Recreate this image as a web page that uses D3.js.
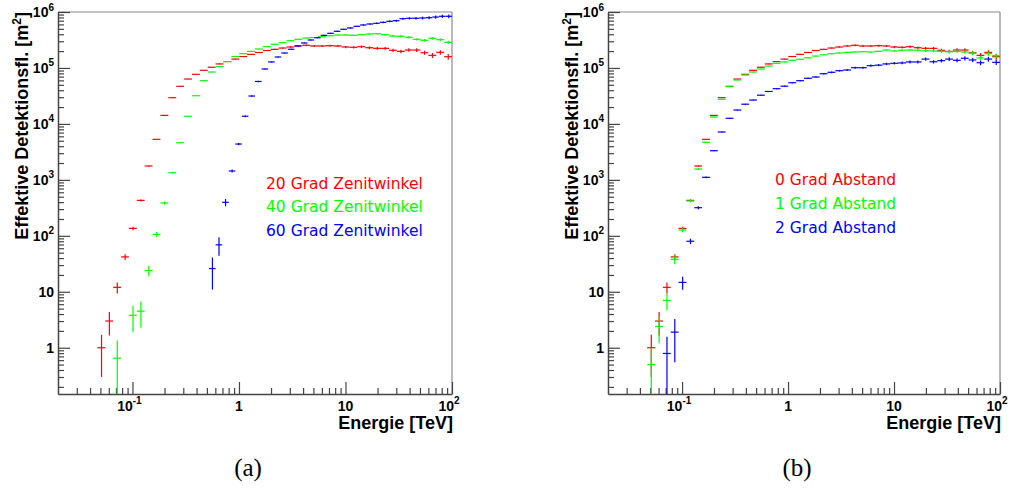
<!DOCTYPE html>
<html>
<head>
<meta charset="utf-8">
<script src="https://cdn.jsdelivr.net/npm/d3@7"></script>
<style>
  html, body { margin: 0; padding: 0; background: #fff; }
  svg { display: block; }
</style>
</head>
<body>
<svg id="chart" width="1013" height="489"></svg>
<script>
// ---- Axis ranges and binning (log-spaced energy bins) ----
const energyRange = [0.02, 100];     // TeV
const areaRange = [0.149, 1e6];      // m^2
const coarseBins = 50;
const fineBins = 60;

// ---- Panel (a): effective area for three zenith angles ----
// 20 deg zenith angle, 50 bins, first filled bin = 5
const zenith20First = 5;
const zenith20Values = [1.0, 3.0, 12, 42, 136, 430, 1770, 5300, 14200, 29400,
  47000, 63400, 77000, 90800, 103000, 118000, 130000, 144000, 160000, 175000,
  189000, 205000, 215000, 227000, 237000, 247000, 254000, 247000, 247000, 250000,
  247000, 237000, 234000, 240000, 230000, 224000, 224000, 207000, 198000, 209000,
  209000, 187000, 168000, 190000, 159000];
const zenith20Errors = [0.7, 1.35, 2.7, 5, 10, 18, 40, 80, 150, 300,
  500, 700, 900, 1200, 1500, 1800, 2200, 2600, 3000, 3500,
  4000, 4600, 5200, 6000, 6800, 7600, 8500, 9000, 9500, 10000,
  10500, 11000, 11500, 12000, 12500, 13000, 13500, 14000, 14500, 15000,
  16000, 16000, 17000, 18000, 19000];

// 40 deg zenith angle, 50 bins, first filled bin = 7 (bin 8 empty)
const zenith40First = 7;
const zenith40Values = [0.65, null, 3.8, 4.5, 24, 106, 386, 1340, 4610, 13700,
  31900, 59200, 84600, 106000, 130000, 160000, 180000, 198000, 218000, 240000,
  265000, 283000, 307000, 325000, 343000, 350000, 362000, 377000, 388000, 388000,
  383000, 393000, 404000, 409000, 393000, 372000, 368000, 353000, 325000, 312000,
  339000, 320000, 287000];
const zenith40Errors = [0.7, null, 1.9, 2.2, 5, 12, 25, 50, 110, 200,
  350, 600, 800, 1000, 1300, 1700, 2000, 2400, 2800, 3300,
  3900, 4500, 5200, 6000, 6800, 7500, 8300, 9200, 10000, 10500,
  11000, 12000, 13000, 14000, 14000, 14500, 15000, 15500, 16000, 17000,
  18000, 19000, 20000];

// 60 deg zenith angle, 60 bins, first filled bin = 23
const zenith60First = 23;
const zenith60Values = [26, 69, 397, 1440, 4370, 13700, 31500, 57300, 95800, 128000,
  157000, 185000, 216000, 247000, 279000, 316000, 347000, 383000, 416000, 452000,
  491000, 518000, 555000, 586000, 610000, 628000, 654000, 682000, 699000, 759000,
  772000, 772000, 781000, 791000, 813000, 838000, 838000];
const zenith60Errors = [15, 25, 60, 90, 200, 500, 900, 1500, 2200, 2800,
  3400, 4000, 4700, 5300, 6000, 6800, 7600, 8500, 9500, 10500,
  12000, 13500, 15000, 17000, 19000, 21000, 23000, 26000, 29000, 33000,
  37000, 41000, 45000, 49000, 53000, 58000, 62000];

// ---- Panel (b): effective area for three source offsets ----
// 0 deg offset is the same sample as the 20 deg zenith run
const offset0First = zenith20First;
const offset0Values = zenith20Values;
const offset0Errors = zenith20Errors;

// 1 deg offset, 50 bins, first filled bin = 5
const offset1First = 5;
const offset1Values = [0.5, 2.4, 7.0, 38, 127, 419, 1560, 4690, 13300, 27500,
  46200, 60900, 74800, 84600, 95800, 108000, 121000, 128000, 137000, 143000,
  152000, 163000, 172000, 180000, 185000, 190000, 193000, 195000, 193000, 198000,
  209000, 201000, 207000, 209000, 207000, 203000, 201000, 198000, 195000, 198000,
  193000, 183000, 151000, 180000, 166000];
const offset1Errors = [0.5, 1.2, 2.3, 7, 12, 25, 50, 110, 200, 320,
  450, 600, 750, 900, 1050, 1250, 1450, 1650, 1850, 2100,
  2400, 2700, 3000, 3400, 3800, 4200, 4600, 5000, 5500, 6000,
  6600, 7000, 7600, 8200, 8800, 9400, 10000, 10600, 11200, 12000,
  12800, 13500, 14000, 15000, 16000];

// 2 deg offset, 50 bins, first filled bin = 7
const offset2First = 7;
const offset2Values = [0.79, 1.9, 14.7, 80, 318, 1110, 3320, 7170, 12600, 17700,
  22500, 26700, 32600, 38000, 42600, 47200, 54500, 59200, 65300, 68900,
  78900, 83600, 89300, 91900, 101000, 101000, 110000, 112000, 118000, 121000,
  123000, 128000, 128000, 144000, 129000, 135000, 144000, 137000, 149000, 139000,
  124000, 144000, 126000];
const offset2Errors = [0.78, 1.35, 3.8, 9, 20, 40, 80, 150, 250, 350,
  450, 550, 700, 850, 1000, 1200, 1400, 1600, 1900, 2100,
  2500, 2800, 3100, 3400, 3900, 4200, 4800, 5200, 5800, 6300,
  6800, 7500, 8000, 9500, 9000, 9800, 11000, 11000, 12500, 12500,
  12000, 14500, 13500];

// ---- Labels ----
const zenithLabels = ["20 Grad Zenitwinkel", "40 Grad Zenitwinkel", "60 Grad Zenitwinkel"];
const offsetLabels = ["0 Grad Abstand", "1 Grad Abstand", "2 Grad Abstand"];
const seriesColors = ["#ff0000", "#00ff00", "#0000ff"];
const xTickValues = [0.1, 1, 10, 100];
const xTickLabels = [["10", "-1"], ["1", ""], ["10", ""], ["10", "2"]];
const yTickValues = [1, 10, 100, 1e3, 1e4, 1e5, 1e6];
const yTickLabels = [["1", ""], ["10", ""], ["10", "2"], ["10", "3"], ["10", "4"], ["10", "5"], ["10", "6"]];
const xTitle = "Energie [TeV]";
const yTitle = ["Effektive Detektionsfl. [m", "2", "]"];
const captions = ["(a)", "(b)"];

// ---- Layout ----
const plotTop = 12, plotBottom = 394;
const panels = [
  { left: 58, right: 452, captionX: 248, legendX: 266, legendY: 188.5, labels: zenithLabels,
    series: [
      { bins: coarseBins, first: zenith20First, values: zenith20Values, errors: zenith20Errors },
      { bins: coarseBins, first: zenith40First, values: zenith40Values, errors: zenith40Errors },
      { bins: fineBins, first: zenith60First, values: zenith60Values, errors: zenith60Errors }
    ] },
  { left: 608, right: 1000, captionX: 797, legendX: 775, legendY: 185.3, labels: offsetLabels,
    series: [
      { bins: coarseBins, first: offset0First, values: offset0Values, errors: offset0Errors },
      { bins: coarseBins, first: offset1First, values: offset1Values, errors: offset1Errors },
      { bins: coarseBins, first: offset2First, values: offset2Values, errors: offset2Errors }
    ] }
];

const labelFont = "'Liberation Sans', Arial, Helvetica, sans-serif";
const svg = d3.select("#chart");

function binEdges(n) {
  const l0 = Math.log10(energyRange[0]), l1 = Math.log10(energyRange[1]);
  return d3.range(n + 1).map(k => Math.pow(10, l0 + (l1 - l0) * k / n));
}

function minorTicks(lo, hi) {
  const out = [];
  for (let e = Math.floor(Math.log10(lo)); e <= Math.ceil(Math.log10(hi)); e++) {
    for (let m = 2; m <= 9; m++) {
      const v = m * Math.pow(10, e);
      if (v > lo * 1.0001 && v < hi * 0.9999) out.push(v);
    }
  }
  return out;
}

function addSupText(sel, base, sup, size, supSize, supShift) {
  sel.append("tspan").text(base).attr("font-size", size);
  if (sup) sel.append("tspan").text(sup).attr("font-size", supSize).attr("dy", -supShift);
}

panels.forEach((p, pi) => {
  const x = d3.scaleLog().domain(energyRange).range([p.left, p.right]);
  const y = d3.scaleLog().domain(areaRange).range([plotBottom, plotTop]);
  const g = svg.append("g");

  const clipId = "clip" + pi;
  svg.append("clipPath").attr("id", clipId)
    .append("rect").attr("x", p.left).attr("y", plotTop)
    .attr("width", p.right - p.left).attr("height", plotBottom - plotTop);

  // Frame: top and right borders
  g.append("line").attr("x1", p.left).attr("x2", p.right).attr("y1", plotTop).attr("y2", plotTop)
    .attr("stroke", "#8a8a8a").attr("stroke-width", 1.2);
  g.append("line").attr("x1", p.right).attr("x2", p.right).attr("y1", plotTop).attr("y2", plotBottom)
    .attr("stroke", "#8a8a8a").attr("stroke-width", 1.2);

  // Energy axis: minor and major ticks drawn inward
  const xMinor = g.append("g").attr("transform", `translate(0,${plotBottom})`)
    .attr("color", "#444")
    .call(d3.axisBottom(x).tickValues(minorTicks(energyRange[0], energyRange[1]))
      .tickSize(-6).tickSizeOuter(0).tickFormat(() => ""));
  xMinor.select(".domain").remove();
  const xMajor = g.append("g").attr("transform", `translate(0,${plotBottom})`)
    .attr("color", "#444")
    .call(d3.axisBottom(x).tickValues(xTickValues).tickSize(-12).tickSizeOuter(0).tickFormat(() => ""));
  xMajor.select(".domain").attr("stroke-width", 1.5);

  // Area axis: minor and major ticks drawn inward
  const yMinor = g.append("g").attr("transform", `translate(${p.left},0)`)
    .attr("color", "#444")
    .call(d3.axisLeft(y).tickValues(minorTicks(areaRange[0], areaRange[1]))
      .tickSize(-6).tickSizeOuter(0).tickFormat(() => ""));
  yMinor.select(".domain").remove();
  const yMajor = g.append("g").attr("transform", `translate(${p.left},0)`)
    .attr("color", "#444")
    .call(d3.axisLeft(y).tickValues(yTickValues).tickSize(-12).tickSizeOuter(0).tickFormat(() => ""));
  yMajor.select(".domain").attr("stroke-width", 1.5);
  g.selectAll(".tick line").attr("stroke-width", 1.2);
  g.selectAll(".tick text").remove();

  // Tick labels
  xTickValues.forEach((v, i) => {
    const [base, sup] = xTickLabels[i];
    const t = g.append("text")
      .attr("x", x(v) - (sup ? 3 : 0)).attr("y", 410.5)
      .attr("text-anchor", "middle").attr("font-family", labelFont)
      .attr("font-weight", "bold").attr("fill", "#000");
    addSupText(t, base, sup, 14, 10, 7);
  });
  yTickValues.forEach((v, i) => {
    const [base, sup] = yTickLabels[i];
    const t = g.append("text")
      .attr("x", p.left - 4).attr("y", y(v) + 5)
      .attr("text-anchor", "end").attr("font-family", labelFont)
      .attr("font-weight", "bold").attr("fill", "#000");
    addSupText(t, base, sup, 14, 10, 6.5);
  });

  // Axis titles
  g.append("text").attr("x", p.right + 1).attr("y", 429)
    .attr("text-anchor", "end").attr("font-family", labelFont)
    .attr("font-weight", "bold").attr("font-size", 18).attr("fill", "#000")
    .text(xTitle);
  const yt = g.append("text")
    .attr("transform", `translate(${p.left - 30},${plotTop}) rotate(-90)`)
    .attr("text-anchor", "end").attr("font-family", labelFont)
    .attr("font-weight", "bold").attr("font-size", 18).attr("fill", "#000");
  yt.append("tspan").text(yTitle[0]);
  yt.append("tspan").text(yTitle[1]).attr("font-size", 12).attr("dy", -7);
  yt.append("tspan").text(yTitle[2]).attr("dy", 7);

  // Data: bin-width horizontal bars with vertical error bars
  const dataG = g.append("g").attr("clip-path", `url(#${clipId})`);
  p.series.forEach((s, si) => {
    const edges = binEdges(s.bins);
    const pts = s.values.map((v, i) => ({ v, e: s.errors[i], k: s.first + i }))
      .filter(d => d.v != null);
    const color = seriesColors[si];
    const sg = dataG.append("g").attr("stroke", color).attr("stroke-width", 1.2);
    sg.selectAll("line.h").data(pts).join("line").attr("class", "h")
      .attr("x1", d => x(edges[d.k])).attr("x2", d => x(edges[d.k + 1]))
      .attr("y1", d => y(d.v)).attr("y2", d => y(d.v));
    sg.selectAll("line.v").data(pts).join("line").attr("class", "v")
      .attr("x1", d => x((edges[d.k] + edges[d.k + 1]) / 2))
      .attr("x2", d => x((edges[d.k] + edges[d.k + 1]) / 2))
      .attr("y1", d => y(d.v + d.e))
      .attr("y2", d => (d.v - d.e > areaRange[0] ? y(d.v - d.e) : plotBottom));
  });

  // Legend
  p.labels.forEach((lab, i) => {
    g.append("text").attr("x", p.legendX).attr("y", p.legendY + i * 23.6)
      .attr("font-family", "'DejaVu Sans', Verdana, sans-serif").attr("font-size", 15.5)
      .attr("fill", seriesColors[i]).text(lab);
  });

  // Sub-figure caption
  g.append("text").attr("x", p.captionX).attr("y", 476)
    .attr("text-anchor", "middle").attr("font-family", "'Liberation Serif', 'Times New Roman', serif")
    .attr("font-size", 25).attr("fill", "#000").text(captions[pi]);
});
</script>
</body>
</html>
